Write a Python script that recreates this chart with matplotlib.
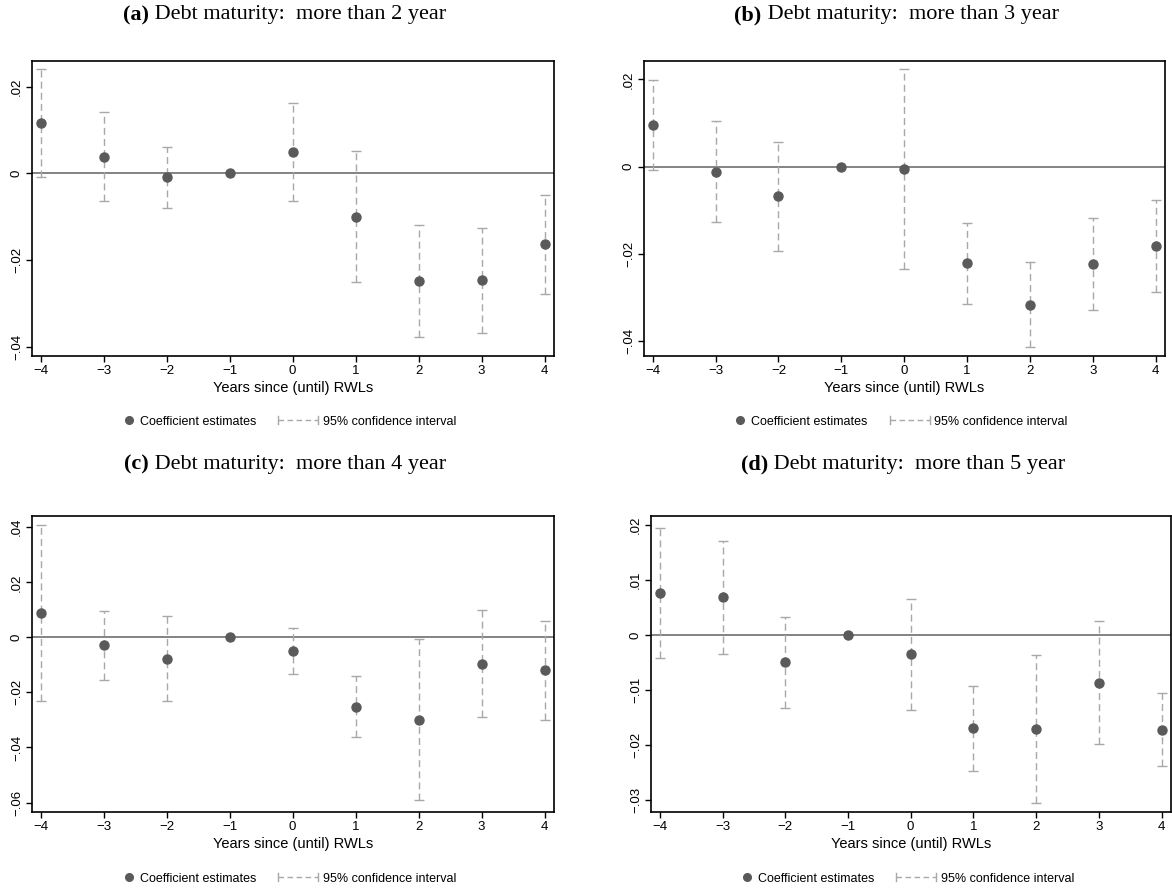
import matplotlib
matplotlib.use("Agg")
import matplotlib.pyplot as plt
import numpy as np
from matplotlib.lines import Line2D

# ---------------- data ----------------
years = [-4, -3, -2, -1, 0, 1, 2, 3, 4]

a_coef = [0.0116, 0.0039, -0.0009, 0.0, 0.0049, -0.0100, -0.0248, -0.0246, -0.0163]
a_hi   = [0.0241, 0.0142, 0.0062, 0.0, 0.0162, 0.0052, -0.0118, -0.0125, -0.0049]
a_lo   = [-0.0009, -0.0063, -0.0079, 0.0, -0.0063, -0.0251, -0.0377, -0.0369, -0.0277]

b_coef = [0.0095, -0.0012, -0.0068, 0.0, -0.0006, -0.0222, -0.0318, -0.0224, -0.0183]
b_hi   = [0.0199, 0.0105, 0.0057, 0.0, 0.0223, -0.0129, -0.0220, -0.0118, -0.0077]
b_lo   = [-0.0008, -0.0128, -0.0193, 0.0, -0.0236, -0.0315, -0.0415, -0.0329, -0.0289]

c_coef = [0.0090, -0.0029, -0.0078, 0.0, -0.0051, -0.0252, -0.0299, -0.0096, -0.0119]
c_hi   = [0.0409, 0.0096, 0.0079, 0.0, 0.0035, -0.0140, -0.0006, 0.0101, 0.0061]
c_lo   = [-0.0230, -0.0154, -0.0232, 0.0, -0.0133, -0.0361, -0.0592, -0.0289, -0.0299]

d_coef = [0.0076, 0.0068, -0.0050, 0.0, -0.0035, -0.0170, -0.0171, -0.0087, -0.0173]
d_hi   = [0.0195, 0.0171, 0.0033, 0.0, 0.0066, -0.0092, -0.0036, 0.0025, -0.0106]
d_lo   = [-0.0042, -0.0035, -0.0133, 0.0, -0.0136, -0.0247, -0.0306, -0.0199, -0.0239]

panel_tags = ["(a)", "(b)", "(c)", "(d)"]
panel_titles = ["Debt maturity:  more than 2 year", "Debt maturity:  more than 3 year",
                "Debt maturity:  more than 4 year", "Debt maturity:  more than 5 year"]
xlabel = "Years since (until) RWLs"
legend_labels = ["Coefficient estimates", "95% confidence interval"]

a_yticks = [-0.04, -0.02, 0.0, 0.02]
b_yticks = [-0.04, -0.02, 0.0, 0.02]
c_yticks = [-0.06, -0.04, -0.02, 0.0, 0.02, 0.04]
d_yticks = [-0.03, -0.02, -0.01, 0.0, 0.01, 0.02]

# ---------------- style ----------------
W, H = 1172, 888
plt.rcParams['font.family'] = ['Liberation Sans', 'DejaVu Sans']
plt.rcParams['axes.unicode_minus'] = True

PT_COL = '#5a5a5a'
CI_COL = '#a8a8a8'
ZERO_COL = '#6e6e6e'

fig = plt.figure(figsize=(W / 100, H / 100), dpi=100)
renderer = fig.canvas.get_renderer()

def px_rect(l, r, t, b):
    return [l / W, 1 - b / H, (r - l) / W, (b - t) / H]

rects = [px_rect(32, 554, 60.7, 355.6),
         px_rect(644, 1165, 60.7, 355.6),
         px_rect(32, 554, 516, 811.6),
         px_rect(651, 1171, 516, 811.6)]
ylims = [(-0.0420, 0.0260), (-0.0434, 0.0243), (-0.0633, 0.0441), (-0.0321, 0.0216)]
data = [(a_coef, a_lo, a_hi, a_yticks), (b_coef, b_lo, b_hi, b_yticks),
        (c_coef, c_lo, c_hi, c_yticks), (d_coef, d_lo, d_hi, d_yticks)]
title_y = [15, 15, 464, 464]
legend_y = [420, 420, 877, 877]

def fmt(v):
    if abs(v) < 1e-12:
        return "0"
    s = f"{abs(v):.2f}".lstrip("0")
    return ("\u2212" + s) if v < 0 else s

def fx(px):
    return px / W

def fy(py):
    return 1 - py / H

LEG_FS = 9

def draw_legend(cx, cy):
    t1 = fig.text(0, fy(cy + 0.5), legend_labels[0], fontsize=LEG_FS, va='center_baseline',
                  ha='left')
    t2 = fig.text(0, fy(cy + 0.5), legend_labels[1], fontsize=LEG_FS, va='center_baseline',
                  ha='left')
    w1 = t1.get_window_extent(renderer).width
    w2 = t2.get_window_extent(renderer).width
    dot_w, gap1, gap2, hand_w, gap3 = 6, 8, 22, 40, 5
    total = dot_w + gap1 + w1 + gap2 + hand_w + gap3 + w2
    x = cx - total / 2
    fig.add_artist(Line2D([fx(x + dot_w / 2)], [fy(cy)], marker='o', markersize=5.5,
                          color=PT_COL, ls='none', transform=fig.transFigure))
    x += dot_w + gap1
    t1.set_x(fx(x))
    x += w1 + gap2
    fig.add_artist(Line2D([fx(x), fx(x + hand_w)], [fy(cy), fy(cy)], color=CI_COL, lw=1.0,
                          ls=(0, (4, 2.5)), transform=fig.transFigure))
    for xe in (x, x + hand_w):
        fig.add_artist(Line2D([fx(xe), fx(xe)], [fy(cy - 4), fy(cy + 4)], color=CI_COL,
                              lw=1.0, transform=fig.transFigure))
    x += hand_w + gap3
    t2.set_x(fx(x))

for i, (coef, lo, hi, yt) in enumerate(data):
    ax = fig.add_axes(rects[i])
    x = np.array(years, dtype=float)
    c = np.array(coef); l = np.array(lo); h = np.array(hi)
    m = h > l
    ax.axhline(0, color=ZERO_COL, lw=1.2, zorder=1)
    eb = ax.errorbar(x[m], c[m], yerr=[c[m] - l[m], h[m] - c[m]], fmt='none',
                     ecolor=CI_COL, elinewidth=1.0, capsize=3.5, capthick=1.0, zorder=2)
    eb[2][0].set_linestyle((0, (5, 3)))
    ax.plot(x, c, 'o', color=PT_COL, markersize=6.5, zorder=3)
    ax.set_xlim(-4.14, 4.15)
    ax.set_ylim(*ylims[i])
    ax.set_xticks(years)
    ax.set_xticklabels([("\u2212" + str(-v)) if v < 0 else str(v) for v in years])
    ax.set_yticks(yt)
    ax.set_yticklabels([fmt(v) for v in yt], rotation=90, va='center')
    ax.tick_params(axis='both', direction='out', length=4, width=1.0, labelsize=9.5,
                   color='black', pad=2.5)
    for sp in ax.spines.values():
        sp.set_linewidth(1.2)
        sp.set_color('black')
    ax.set_xlabel(xlabel, fontsize=10.5, labelpad=3)

    bb = ax.get_position()
    cx_px = (bb.x0 + bb.x1) / 2 * W

    draw_legend(cx_px - 2, legend_y[i])

    # title: bold tag + regular text
    ty = fy(title_y[i])
    t1 = fig.text(0, ty, panel_tags[i], fontsize=16, fontweight='bold',
                  family='Liberation Serif', va='center', ha='left')
    t2 = fig.text(0, ty, " " + panel_titles[i], fontsize=16,
                  family='Liberation Serif', va='center', ha='left')
    w1 = t1.get_window_extent(renderer).width
    w2 = t2.get_window_extent(renderer).width
    x0 = cx_px - 8 - (w1 + w2) / 2
    t1.set_x(fx(x0))
    t2.set_x(fx(x0 + w1))

fig.savefig("out.png", dpi=100)
